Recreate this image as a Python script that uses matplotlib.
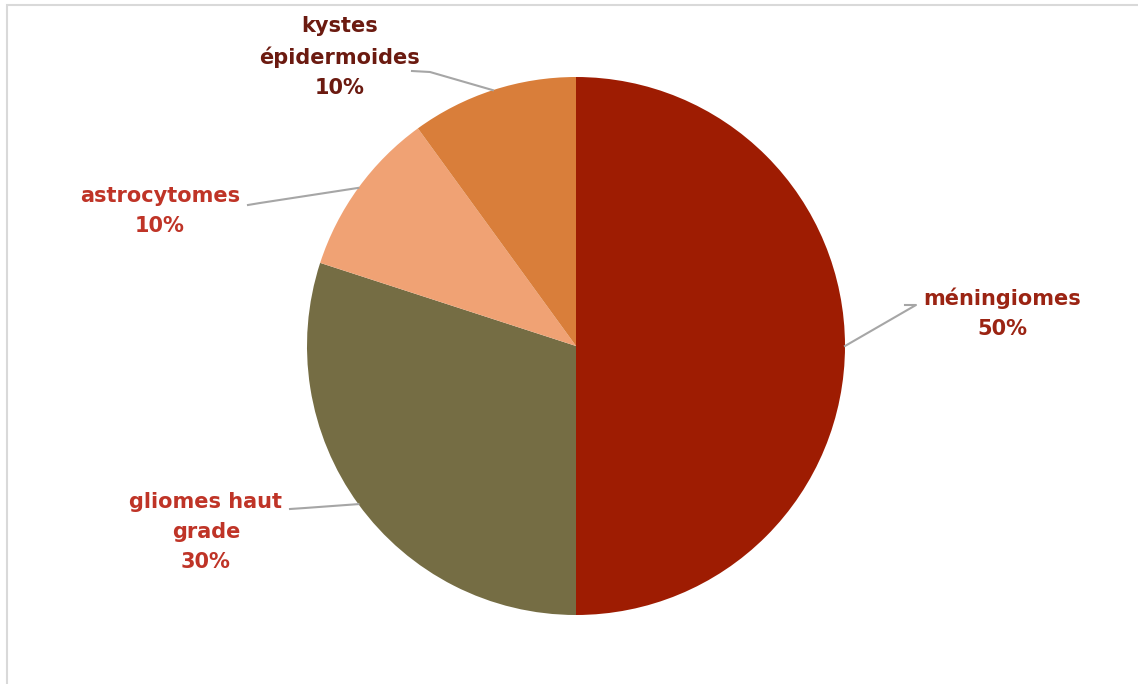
import numpy as np
import matplotlib.pyplot as plt
from matplotlib.patches import Rectangle

# data
labels = ['méningiomes', 'gliomes haut\ngrade', 'astrocytomes', 'kystes\népidermoides']
values = [50, 30, 10, 10]
colors = ['#9E1C02', '#756D44', '#F0A274', '#D97E3A']
label_colors = ['#9B2413', '#BF3427', '#BF3427', '#6B1A10']

W, H = 1138, 684
fig = plt.figure(figsize=(W / 100, H / 100), dpi=100)
ax = fig.add_axes([0, 0, 1, 1])
ax.set_xlim(0, W)
ax.set_ylim(0, H)
ax.set_aspect('equal')
ax.axis('off')

# outer chart border (only left/top visible in the reference)
ax.add_patch(Rectangle((7, -20), W + 40, H - 5 + 20, fill=False,
                       edgecolor='#D9D9D9', linewidth=1.5))

cx, cy, r = 576, H - 346, 269
wedges, _ = ax.pie(values, colors=colors, startangle=90, counterclock=False,
                   center=(cx, cy), radius=r, frame=True,
                   wedgeprops=dict(linewidth=0))
ax.set_xlim(0, W)
ax.set_ylim(0, H)
ax.axis('off')

# label text position (pixel, from top) and leader elbow
text_pos = [(1002, 313), (206, 532), (160, 211), (340, 57)]
elbows = [(905, 305), (290, 509), (248, 205), (412, 71)]
elbow2 = [(916, 305), (305, 508), (260, 203), (430, 72)]

for w, lab, v, c, tp, e1, e2 in zip(wedges, labels, values, label_colors,
                                     text_pos, elbows, elbow2):
    mid = np.deg2rad((w.theta1 + w.theta2) / 2)
    ex, ey = cx + r * np.cos(mid), cy + r * np.sin(mid)
    ax.plot([e1[0], e2[0], ex], [H - e1[1], H - e2[1], ey],
            color='#A6A6A6', linewidth=1.5, zorder=1)
    ax.text(tp[0], H - tp[1], f'{lab}\n{v}%', color=c, fontsize=15,
            fontweight='bold', ha='center', va='center', linespacing=1.6)

fig.savefig('out.png', dpi=100, facecolor='white')
